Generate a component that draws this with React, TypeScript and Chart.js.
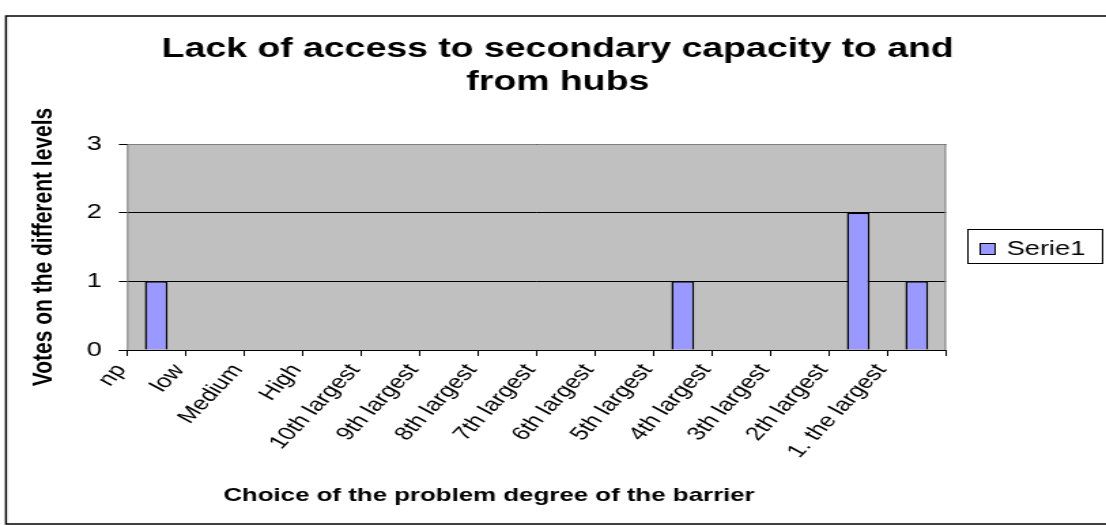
import React, { useEffect, useRef } from "react";
import { Chart, registerables } from "chart.js";

Chart.register(...registerables);

const categories = [
  "np", "low", "Medium", "High", "10th largest", "9th largest", "8th largest",
  "7th largest", "6th largest", "5th largest", "4th largest", "3th largest",
  "2th largest", "1. the largest",
];
const serie1 = [1, 0, 0, 0, 0, 0, 0, 0, 0, 1, 0, 0, 2, 1];
const seriesLabel = "Serie1";
const titleLines = ["Lack of access to secondary capacity to and", "from hubs"];
const xTitle = "Choice of the problem degree of the barrier";
const yTitle = "Votes on the different levels";
const yTicks = [0, 1, 2, 3];

const FONT = "'Liberation Sans', Arial, sans-serif";
// The reference chart is horizontally stretched; draw at a narrower
// intrinsic width and stretch the canvas with CSS.
const OUT_W = 1106;
const OUT_H = 525;
const IN_W = 813;
const SX = OUT_W / IN_W;

const framePlugin = {
  id: "frame",
  beforeDraw(chart: any) {
    const { ctx, chartArea } = chart;
    ctx.save();
    ctx.fillStyle = "#ffffff";
    ctx.fillRect(0, 0, chart.width, chart.height);
    ctx.strokeStyle = "#000000";
    ctx.lineWidth = 1.5;
    ctx.strokeRect(4.4, 16, chart.width + 10, chart.height - 17);
    ctx.fillStyle = "#C0C0C0";
    ctx.fillRect(chartArea.left, chartArea.top, chartArea.right - chartArea.left, chartArea.bottom - chartArea.top);
    ctx.restore();
  },
  afterDatasetsDraw(chart: any) {
    const { ctx, chartArea } = chart;
    ctx.save();
    ctx.strokeStyle = "#808080";
    ctx.lineWidth = 1;
    ctx.beginPath();
    ctx.moveTo(chartArea.left + 0.5, chartArea.bottom);
    ctx.lineTo(chartArea.left + 0.5, chartArea.top + 0.5);
    ctx.lineTo(chartArea.right - 0.5, chartArea.top + 0.5);
    ctx.lineTo(chartArea.right - 0.5, chartArea.bottom);
    ctx.stroke();
    ctx.strokeStyle = "#000000";
    ctx.beginPath();
    ctx.moveTo(chartArea.left - 6, chartArea.bottom + 0.5);
    ctx.lineTo(chartArea.right, chartArea.bottom + 0.5);
    ctx.stroke();
    // legend box
    const ds = chart.data.datasets[0];
    const bx = 711, by = 229, bw = 99, bh = 34;
    ctx.fillStyle = "#ffffff";
    ctx.fillRect(bx, by, bw, bh);
    ctx.strokeStyle = "#000000";
    ctx.lineWidth = 1;
    ctx.strokeRect(bx + 0.5, by + 0.5, bw, bh);
    ctx.fillStyle = ds.backgroundColor;
    ctx.fillRect(720, 243, 11, 11);
    ctx.strokeRect(720.5, 243.5, 11, 11);
    ctx.fillStyle = "#000000";
    ctx.font = `20px ${FONT}`;
    ctx.textBaseline = "alphabetic";
    ctx.textAlign = "left";
    ctx.fillText(ds.label, 740, 254.5);
    // chart title
    ctx.font = `bold 27.5px ${FONT}`;
    ctx.textAlign = "center";
    ctx.fillText(titleLines[0], 410, 57);
    ctx.fillText(titleLines[1], 410, 90);
    // x axis title
    ctx.font = `bold 19px ${FONT}`;
    ctx.fillText(xTitle, 489 / SX, 501);
    ctx.restore();
  },
};

export default function App() {
  const ref = useRef<HTMLCanvasElement>(null);
  useEffect(() => {
    document.body.style.margin = "0";
    const chart = new Chart(ref.current!, {
      type: "bar",
      data: {
        labels: categories,
        datasets: [
          {
            label: seriesLabel,
            data: serie1,
            backgroundColor: "#9999FF",
            borderColor: "#000000",
            borderWidth: 1.5,
            categoryPercentage: 1,
            barPercentage: 0.39,
          },
        ],
      },
      options: {
        animation: false,
        responsive: false,
        devicePixelRatio: 1,
        layout: { padding: { left: 0, top: 144, right: IN_W - 946 / SX, bottom: 0 } },
        plugins: { legend: { display: false }, title: { display: false }, tooltip: { enabled: false } },
        scales: {
          x: {
            offset: true,
            grid: { offset: true, drawOnChartArea: false, drawTicks: true, tickLength: 6, color: "#000000" },
            border: { display: false },
            ticks: {
              autoSkip: false,
              maxRotation: 54,
              minRotation: 54,
              color: "#000000",
              font: { family: FONT, size: 19 },
              labelOffset: -26,
              padding: 4,
            },
            title: { display: false, text: xTitle },
            afterFit(scale: any) { scale.height = 175; },
          },
          y: {
            min: 0,
            max: 3,
            afterBuildTicks(scale: any) { scale.ticks = yTicks.map((v) => ({ value: v })); },
            grid: { color: "#000000", tickLength: 6, drawTicks: true },
            border: { display: false },
            ticks: {
              color: "#000000",
              font: { family: FONT, size: 20 },
              padding: 12.5,
            },
            title: {
              display: true,
              text: yTitle,
              color: "#000000",
              font: { family: FONT, size: 21, weight: "bold" },
              padding: { top: 20, bottom: 0 },
            },
            afterFit(scale: any) { scale.width = 127 / SX; },
          },
        },
      },
      plugins: [framePlugin],
    });
    return () => chart.destroy();
  }, []);
  return (
    <canvas
      ref={ref}
      width={IN_W}
      height={OUT_H}
      style={{ display: "block", width: `${OUT_W}px`, height: `${OUT_H}px` }}
    />
  );
}
